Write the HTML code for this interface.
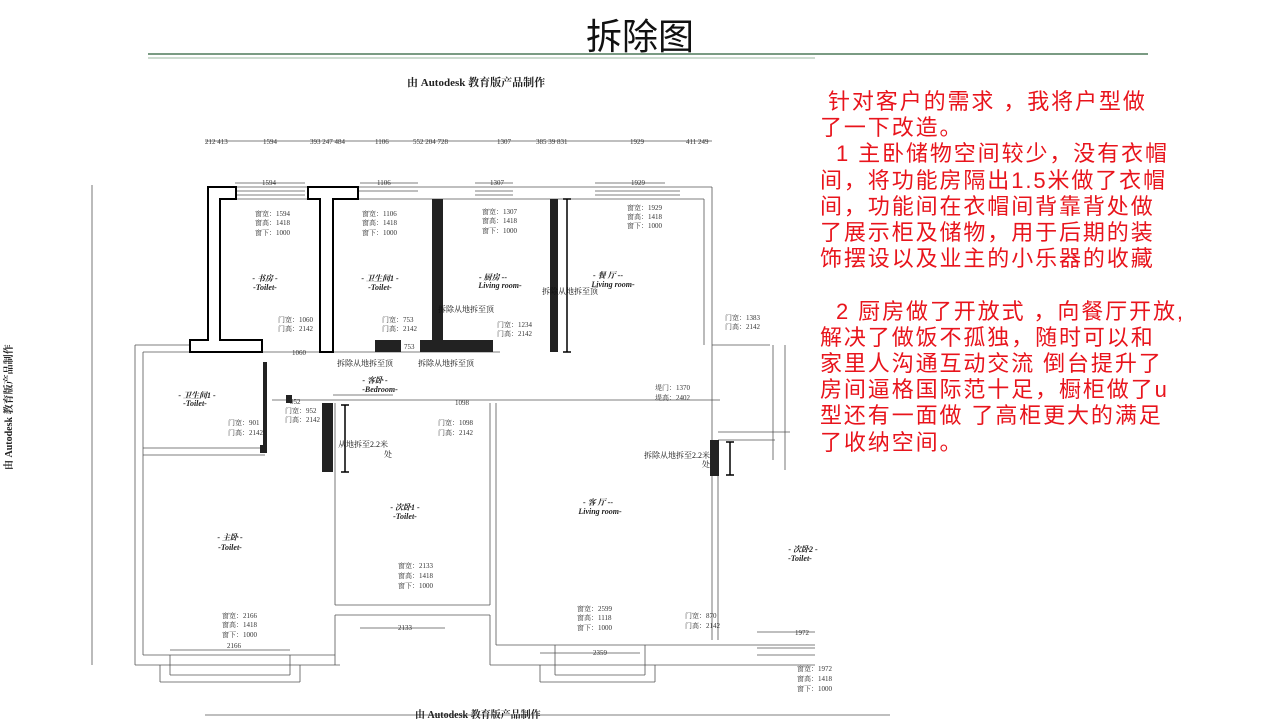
<!DOCTYPE html>
<html><head><meta charset="utf-8"><style>
html,body{margin:0;padding:0;background:#fff;}
#w{position:relative;width:1280px;height:720px;overflow:hidden;background:#fff;}
.t{position:absolute;left:0;top:8px;width:1280px;text-align:center;font:36px "Liberation Sans","Noto Sans CJK SC",sans-serif;color:#111;}
.red{position:absolute;left:820px;top:89px;font:22px/26.2px "Liberation Sans","Noto Sans CJK SC",sans-serif;color:#e8141c;letter-spacing:1.9px;white-space:pre;}
svg text{font-family:"Liberation Serif","Noto Serif CJK SC",serif;}
</style></head><body><div id="w">
<div class="t">拆除图</div>
<svg width="1280" height="720" style="position:absolute;left:0;top:0">
<line x1="148" y1="54" x2="1148" y2="54" stroke="#4e7a5a" stroke-width="1.5"/>
<line x1="148" y1="58" x2="815" y2="58" stroke="#9bb8a2" stroke-width="1"/>
<text x="407" y="86" font-size="11" font-weight="bold" font-family="Liberation Sans,Noto Sans CJK SC,sans-serif" fill="#222">由 Autodesk 教育版产品制作</text>
<text transform="translate(12,470) rotate(-90)" font-size="10" font-weight="bold" font-family="Liberation Sans,Noto Sans CJK SC,sans-serif" fill="#222">由 Autodesk 教育版产品制作</text>
<g stroke="#555" stroke-width="0.8" fill="none">
<line x1="205" y1="141" x2="712" y2="141"/>
<line x1="205" y1="715" x2="890" y2="715"/>
<line x1="92" y1="185" x2="92" y2="665"/>
<line x1="235" y1="183" x2="305" y2="183"/><line x1="360" y1="183" x2="418" y2="183"/><line x1="475" y1="183" x2="513" y2="183"/><line x1="595" y1="183" x2="665" y2="183"/>
<line x1="236" y1="187" x2="712" y2="187"/><line x1="236" y1="199" x2="704" y2="199"/>
<line x1="236" y1="191" x2="305" y2="191"/><line x1="236" y1="195" x2="305" y2="195"/>
<line x1="358" y1="191" x2="418" y2="191"/><line x1="475" y1="191" x2="513" y2="191"/><line x1="475" y1="195" x2="513" y2="195"/>
<line x1="595" y1="191" x2="680" y2="191"/><line x1="595" y1="195" x2="680" y2="195"/>
<line x1="712" y1="187" x2="712" y2="345"/><line x1="704" y1="199" x2="704" y2="345"/>
<line x1="135" y1="345" x2="190" y2="345"/><line x1="135" y1="345" x2="135" y2="665"/><line x1="143" y1="352" x2="143" y2="655"/>
<line x1="143" y1="352" x2="190" y2="352"/><line x1="143" y1="448" x2="265" y2="448"/><line x1="143" y1="455" x2="265" y2="455"/>
<line x1="262" y1="352" x2="500" y2="352"/>
<line x1="272" y1="400" x2="720" y2="400"/><line x1="333" y1="395" x2="393" y2="395"/>
<line x1="335" y1="403" x2="335" y2="605"/><line x1="490" y1="403" x2="490" y2="605"/>
<line x1="335" y1="605" x2="490" y2="605"/><line x1="335" y1="615" x2="490" y2="615"/>
<line x1="335" y1="615" x2="335" y2="665"/><line x1="490" y1="615" x2="490" y2="665"/>
<line x1="496" y1="403" x2="496" y2="645"/>
<line x1="143" y1="655" x2="335" y2="655"/><line x1="135" y1="665" x2="340" y2="665"/>
<line x1="170" y1="655" x2="170" y2="675"/><line x1="290" y1="655" x2="290" y2="675"/><line x1="170" y1="675" x2="290" y2="675"/>
<line x1="160" y1="665" x2="160" y2="682"/><line x1="300" y1="665" x2="300" y2="682"/><line x1="160" y1="682" x2="300" y2="682"/>
<line x1="496" y1="645" x2="815" y2="645"/><line x1="490" y1="665" x2="815" y2="665"/>
<line x1="555" y1="645" x2="555" y2="675"/><line x1="645" y1="645" x2="645" y2="675"/><line x1="555" y1="675" x2="645" y2="675"/>
<line x1="540" y1="665" x2="540" y2="682"/><line x1="655" y1="665" x2="655" y2="682"/><line x1="540" y1="682" x2="655" y2="682"/>
<line x1="712" y1="345" x2="712" y2="640"/><line x1="718" y1="440" x2="718" y2="640"/>
<line x1="712" y1="345" x2="770" y2="345"/><line x1="718" y1="432" x2="790" y2="432"/><line x1="718" y1="440" x2="775" y2="440"/>
<line x1="773" y1="345" x2="773" y2="460"/><line x1="785" y1="345" x2="785" y2="470"/>
<line x1="757" y1="648" x2="815" y2="648"/><line x1="757" y1="655" x2="815" y2="655"/>
<line x1="360" y1="628" x2="445" y2="628"/><line x1="540" y1="653" x2="640" y2="653"/><line x1="170" y1="650" x2="290" y2="650"/><line x1="757" y1="632" x2="815" y2="632"/>
</g>
<g stroke="#000" stroke-width="2" fill="#fff">
<polygon points="208,187 236,187 236,199 220,199 220,340 262,340 262,352 190,352 190,340 208,340"/>
<polygon points="308,187 358,187 358,199 333,199 333,352 320,352 320,199 308,199"/>
</g>
<g fill="#222">
<rect x="432" y="199" width="11" height="153"/><rect x="420" y="340" width="73" height="12"/>
<rect x="375" y="340" width="26" height="12"/>
<rect x="550" y="199" width="8" height="153"/>
<rect x="322" y="403" width="11" height="69"/>
<rect x="710" y="440" width="9" height="36"/>
<rect x="263" y="362" width="4" height="88"/><rect x="260" y="445" width="7" height="8"/><rect x="286" y="395" width="6" height="8"/>
</g>
<g stroke="#000" stroke-width="1.5"><line x1="567" y1="199" x2="567" y2="352"/><line x1="563" y1="199" x2="571" y2="199"/><line x1="563" y1="352" x2="571" y2="352"/>
<line x1="345" y1="405" x2="345" y2="472"/><line x1="341" y1="405" x2="349" y2="405"/><line x1="341" y1="472" x2="349" y2="472"/>
<line x1="730" y1="442" x2="730" y2="475"/><line x1="726" y1="442" x2="734" y2="442"/><line x1="726" y1="475" x2="734" y2="475"/></g>
<g font-size="7" fill="#333">
<text x="205" y="144">212 413</text><text x="263" y="144">1594</text><text x="310" y="144">393 247 484</text><text x="375" y="144">1106</text><text x="413" y="144">552 204  728</text><text x="497" y="144">1307</text><text x="536" y="144">385 39  831</text><text x="630" y="144">1929</text><text x="686" y="144">411 249</text>
<text x="262" y="185">1594</text><text x="377" y="185">1106</text><text x="490" y="185">1307</text><text x="631" y="185">1929</text>
<text x="255" y="216">窗宽：1594</text><text x="255" y="225">窗高：1418</text><text x="255" y="235">窗下：1000</text>
<text x="362" y="216">窗宽：1106</text><text x="362" y="225">窗高：1418</text><text x="362" y="235">窗下：1000</text>
<text x="482" y="214">窗宽：1307</text><text x="482" y="223">窗高：1418</text><text x="482" y="233">窗下：1000</text>
<text x="627" y="210">窗宽：1929</text><text x="627" y="219">窗高：1418</text><text x="627" y="228">窗下：1000</text>
<text x="278" y="322">门宽：1060</text><text x="278" y="331">门高：2142</text>
<text x="382" y="322">门宽：753</text><text x="382" y="331">门高：2142</text>
<text x="497" y="327">门宽：1234</text><text x="497" y="336">门高：2142</text>
<text x="725" y="320">门宽：1383</text><text x="725" y="329">门高：2142</text>
<text x="292" y="355">1060</text><text x="404" y="349">753</text>
<text x="290" y="404">952</text><text x="285" y="413">门宽：952</text><text x="285" y="422">门高：2142</text><text x="455" y="405">1098</text>
<text x="228" y="425">门宽：901</text><text x="228" y="435">门高：2142</text>
<text x="438" y="425">门宽：1098</text><text x="438" y="435">门高：2142</text>
<text x="655" y="390">堤门：1370</text><text x="655" y="400">堤高：2402</text>
<text x="398" y="568">窗宽：2133</text><text x="398" y="578">窗高：1418</text><text x="398" y="588">窗下：1000</text>
<text x="222" y="618">窗宽：2166</text><text x="222" y="627">窗高：1418</text><text x="222" y="637">窗下：1000</text>
<text x="577" y="611">窗宽：2599</text><text x="577" y="620">窗高：1118</text><text x="577" y="630">窗下：1000</text>
<text x="685" y="618">门宽：870</text><text x="685" y="628">门高：2142</text>
<text x="797" y="671">窗宽：1972</text><text x="797" y="681">窗高：1418</text><text x="797" y="691">窗下：1000</text>
<text x="227" y="648">2166</text><text x="398" y="630">2133</text><text x="593" y="655">2359</text><text x="795" y="635">1972</text>
</g>
<g font-size="8" font-style="italic" font-weight="bold" font-family="Liberation Sans,Noto Sans CJK SC,sans-serif" fill="#222" text-anchor="middle">
<text x="265" y="281">- 书房 -</text><text x="265" y="290">-Toilet-</text>
<text x="380" y="281">- 卫生间1 -</text><text x="380" y="290">-Toilet-</text>
<text x="493" y="280">- 厨房 --</text><text x="500" y="288">Living room-</text>
<text x="608" y="278">- 餐 厅 --</text><text x="613" y="287">Living room-</text>
<text x="375" y="383">- 客卧 -</text><text x="380" y="392">-Bedroom-</text>
<text x="197" y="398">- 卫生间1 -</text><text x="195" y="406">-Toilet-</text>
<text x="405" y="510">- 次卧1 -</text><text x="405" y="519">-Toilet-</text>
<text x="598" y="505">- 客 厅 --</text><text x="600" y="514">Living room-</text>
<text x="230" y="540">- 主卧 -</text><text x="230" y="550">-Toilet-</text>
<text x="803" y="552">- 次卧2 -</text><text x="800" y="561">-Toilet-</text>
</g>
<g font-size="8" fill="#111" font-family="Noto Sans CJK SC,sans-serif">
<text x="438" y="312">拆除从地拆至顶</text><text x="542" y="294">拆除从地拆至顶</text>
<text x="337" y="366">拆除从地拆至顶</text><text x="418" y="366">拆除从地拆至顶</text>
<text x="338" y="447">从地拆至2.2米</text><text x="384" y="457">处</text>
<text x="644" y="458">拆除从地拆至2.2米</text><text x="702" y="467">处</text>
</g>
<text x="415" y="718" font-size="10" font-weight="bold" font-family="Liberation Sans,Noto Sans CJK SC,sans-serif" fill="#222">由 Autodesk 教育版产品制作</text>
</svg>
<div class="red"> 针对客户的需求 ，我将户型做
了一下改造。
  1 主卧储物空间较少，没有衣帽
间，将功能房隔出1.5米做了衣帽
间，功能间在衣帽间背靠背处做
了展示柜及储物，用于后期的装
饰摆设以及业主的小乐器的收藏

  2 厨房做了开放式 ，向餐厅开放,
解决了做饭不孤独，随时可以和
家里人沟通互动交流 倒台提升了
房间逼格国际范十足，橱柜做了u
型还有一面做 了高柜更大的满足
了收纳空间。</div>
</div></body></html>
